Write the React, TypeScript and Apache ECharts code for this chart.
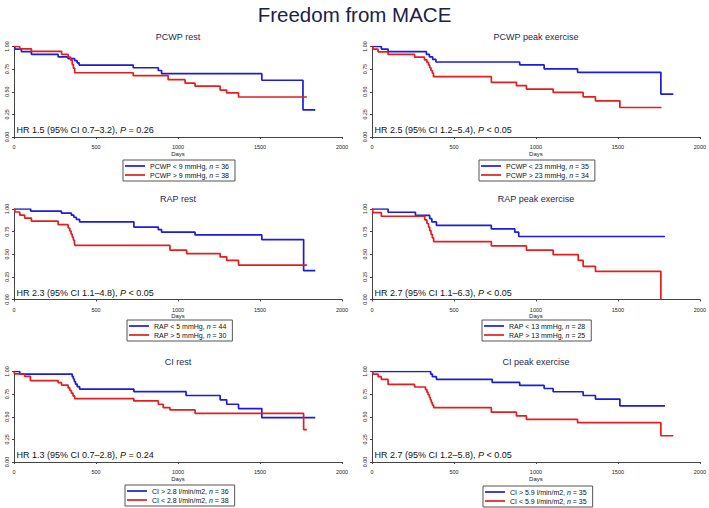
import React, { useEffect, useRef } from "react";
import * as echarts from "echarts";

const xTicks = [0, 500, 1000, 1500, 2000];
const yTicks = [0, 0.25, 0.5, 0.75, 1];

const panelTitles = ["PCWP rest", "PCWP peak exercise", "RAP rest", "RAP peak exercise", "CI rest", "CI peak exercise"];
const hrTexts = [
  "HR 1.5 (95% CI 0.7–3.2), {i|P} = 0.26",
  "HR 2.5 (95% CI 1.2–5.4), {i|P} < 0.05",
  "HR 2.3 (95% CI 1.1–4.8), {i|P} < 0.05",
  "HR 2.7 (95% CI 1.1–6.3), {i|P} < 0.05",
  "HR 1.3 (95% CI 0.7–2.8), {i|P} = 0.24",
  "HR 2.7 (95% CI 1.2–5.8), {i|P} < 0.05",
];
const blueNames = [
  "PCWP < 9 mmHg, n = 36",
  "PCWP < 23 mmHg, n = 35",
  "RAP < 5 mmHg, n = 44",
  "RAP < 13 mmHg, n = 28",
  "CI > 2.8 l/min/m2, n = 36",
  "CI > 5.9 l/min/m2, n = 35",
];
const redNames = [
  "PCWP > 9 mmHg, n = 38",
  "PCWP > 23 mmHg, n = 34",
  "RAP > 5 mmHg, n = 30",
  "RAP > 13 mmHg, n = 25",
  "CI < 2.8 l/min/m2, n = 38",
  "CI < 5.9 l/min/m2, n = 35",
];

// Panel 1: PCWP rest
const p1BlueDays = [0, 5, 45, 106, 269, 330, 370, 385, 397, 727, 880, 900, 1511, 1762, 1837];
const p1BlueSurv = [1, 0.972, 0.944, 0.914, 0.886, 0.866, 0.845, 0.82, 0.795, 0.765, 0.735, 0.7, 0.627, 0.3, 0.3];
const p1RedDays = [0, 35, 106, 290, 330, 345, 355, 362, 370, 727, 940, 1043, 1104, 1257, 1297, 1369, 1786];
const p1RedSurv = [1, 0.974, 0.947, 0.914, 0.884, 0.85, 0.8, 0.76, 0.71, 0.678, 0.633, 0.596, 0.562, 0.517, 0.487, 0.442, 0.442];

// Panel 2: PCWP peak exercise
const p2BlueDays = [0, 57, 98, 332, 350, 370, 390, 901, 1050, 1254, 1762, 1838];
const p2BlueSurv = [1, 0.971, 0.943, 0.914, 0.886, 0.857, 0.829, 0.796, 0.752, 0.715, 0.474, 0.474];
const p2RedDays = [0, 6, 37, 98, 260, 320, 335, 345, 352, 360, 368, 375, 728, 881, 942, 1105, 1288, 1363, 1512, 1766];
const p2RedSurv = [1, 0.97, 0.941, 0.912, 0.882, 0.853, 0.824, 0.794, 0.765, 0.735, 0.706, 0.667, 0.604, 0.567, 0.53, 0.493, 0.444, 0.4, 0.326, 0.326];

// Panel 3: RAP rest
const p3BlueDays = [0, 102, 289, 350, 365, 380, 400, 731, 880, 900, 1104, 1511, 1766, 1837];
const p3BlueSurv = [1, 0.977, 0.955, 0.932, 0.909, 0.886, 0.857, 0.8, 0.771, 0.744, 0.714, 0.662, 0.32, 0.32];
const p3RedDays = [0, 5, 35, 65, 106, 269, 330, 340, 348, 355, 362, 368, 372, 951, 1053, 1257, 1297, 1369, 1786];
const p3RedSurv = [1, 0.967, 0.933, 0.9, 0.867, 0.827, 0.79, 0.757, 0.724, 0.69, 0.657, 0.627, 0.597, 0.545, 0.508, 0.47, 0.432, 0.38, 0.38];

// Panel 4: RAP peak exercise
const p4BlueDays = [0, 98, 265, 352, 365, 393, 728, 871, 895, 1787];
const p4BlueSurv = [1, 0.964, 0.929, 0.893, 0.857, 0.818, 0.78, 0.744, 0.696, 0.696];
const p4RedDays = [0, 5, 57, 322, 335, 345, 352, 360, 368, 376, 728, 942, 1105, 1258, 1288, 1363, 1762];
const p4RedSurv = [1, 0.96, 0.92, 0.88, 0.84, 0.8, 0.76, 0.72, 0.68, 0.64, 0.593, 0.545, 0.495, 0.432, 0.366, 0.311, 0];

// Panel 5: CI rest
const p5BlueDays = [0, 35, 355, 362, 368, 375, 385, 400, 731, 1049, 1257, 1297, 1369, 1511, 1837];
const p5BlueSurv = [1, 0.972, 0.944, 0.917, 0.889, 0.861, 0.833, 0.806, 0.778, 0.735, 0.687, 0.638, 0.59, 0.49, 0.49];
const p5RedDays = [0, 3, 65, 100, 269, 290, 330, 340, 350, 360, 370, 731, 880, 910, 951, 1104, 1766, 1786];
const p5RedSurv = [1, 0.974, 0.947, 0.9, 0.877, 0.85, 0.82, 0.79, 0.76, 0.73, 0.7, 0.675, 0.638, 0.6, 0.575, 0.537, 0.358, 0.358];

// Panel 6: CI peak exercise
const p6BlueDays = [0, 358, 368, 393, 733, 901, 1050, 1105, 1288, 1363, 1512, 1787];
const p6BlueSurv = [1, 0.971, 0.943, 0.914, 0.879, 0.846, 0.812, 0.776, 0.735, 0.695, 0.621, 0.621];
const p6RedDays = [0, 6, 37, 57, 98, 260, 326, 335, 342, 350, 356, 362, 368, 376, 728, 881, 942, 1254, 1762, 1838];
const p6RedSurv = [1, 0.971, 0.943, 0.914, 0.857, 0.829, 0.8, 0.771, 0.743, 0.714, 0.686, 0.657, 0.629, 0.6, 0.551, 0.51, 0.47, 0.434, 0.29, 0.29];

const blueDays = [p1BlueDays, p2BlueDays, p3BlueDays, p4BlueDays, p5BlueDays, p6BlueDays];
const blueSurv = [p1BlueSurv, p2BlueSurv, p3BlueSurv, p4BlueSurv, p5BlueSurv, p6BlueSurv];
const redDays = [p1RedDays, p2RedDays, p3RedDays, p4RedDays, p5RedDays, p6RedDays];
const redSurv = [p1RedSurv, p2RedSurv, p3RedSurv, p4RedSurv, p5RedSurv, p6RedSurv];

const FONT = "'Liberation Sans', Arial, Helvetica, sans-serif";
const BLUE = "#1c1cdc";
const RED = "#e41e1e";

const colLeft = [14, 372];
const plotW = 328;
const rowTop = [46.5, 209, 371.5];
const plotH = 90.5;
const legendPos = [
  [123, 160],
  [479, 160],
  [127, 320],
  [482, 320],
  [125, 485],
  [483, 486],
];

function zip(a: number[], b: number[]) {
  return a.map((d, i) => [d, b[i]]);
}

export default function App() {
  const ref = useRef<HTMLDivElement>(null);
  useEffect(() => {
    if (!ref.current) return;
    const chart = echarts.init(ref.current, undefined, { renderer: "svg" });
    const grids: any[] = [];
    const xAxes: any[] = [];
    const yAxes: any[] = [];
    const series: any[] = [];
    const legends: any[] = [];
    const graphics: any[] = [
      {
        type: "text",
        x: 354.5,
        y: 14,
        style: { text: "Freedom from MACE", fontSize: 20.5, fontFamily: FONT, fill: "#1b2147", align: "center", verticalAlign: "middle" },
      },
    ];
    for (let i = 0; i < 6; i++) {
      const col = i % 2;
      const row = Math.floor(i / 2);
      const left = colLeft[col];
      const top = rowTop[row];
      grids.push({ left, top, width: plotW, height: plotH, containLabel: false });
      xAxes.push({
        type: "value",
        gridIndex: i,
        min: xTicks[0],
        max: xTicks[xTicks.length - 1],
        interval: 500,
        offset: 5.5,
        name: "Days",
        nameLocation: "middle",
        nameGap: 7,
        nameTextStyle: { fontSize: 6, color: "#222", fontFamily: FONT },
        axisLine: { show: true, lineStyle: { color: "#444", width: 1 } },
        axisTick: { show: true, length: 2, lineStyle: { color: "#444" } },
        axisLabel: { fontSize: 5.5, margin: 1.5, color: "#222", fontFamily: FONT, formatter: (v: number) => String(v) },
        splitLine: { show: false },
      });
      yAxes.push({
        type: "value",
        gridIndex: i,
        min: yTicks[0],
        max: yTicks[yTicks.length - 1],
        interval: 0.25,
        offset: 2,
        axisLine: { show: true, lineStyle: { color: "#444", width: 1 } },
        axisTick: { show: true, length: 2, lineStyle: { color: "#444" } },
        axisLabel: { fontSize: 5.3, margin: 2.5, rotate: 90, color: "#222", fontFamily: FONT, formatter: (v: number) => v.toFixed(2) },
        splitLine: { show: false },
      });
      series.push({
        type: "line",
        name: blueNames[i],
        xAxisIndex: i,
        yAxisIndex: i,
        step: "end",
        symbol: "none",
        data: zip(blueDays[i], blueSurv[i]),
        lineStyle: { color: BLUE, width: 1.7 },
        itemStyle: { color: BLUE },
      });
      series.push({
        type: "line",
        name: redNames[i],
        xAxisIndex: i,
        yAxisIndex: i,
        step: "end",
        symbol: "none",
        data: zip(redDays[i], redSurv[i]),
        lineStyle: { color: RED, width: 1.7 },
        itemStyle: { color: RED },
      });
      legends.push({
        orient: "vertical",
        left: legendPos[i][0],
        top: legendPos[i][1],
        data: [blueNames[i], redNames[i]],
        icon: "rect",
        itemWidth: 20,
        itemHeight: 1.7,
        itemGap: 0,
        padding: [1.5, 6, 1.5, 2],
        borderColor: "#555",
        borderWidth: 1,
        selectedMode: false,
        formatter: (n: string) => n.replace(", n =", ", {i|n} ="),
        textStyle: {
          fontSize: 7,
          lineHeight: 9,
          color: "#111",
          fontFamily: FONT,
          rich: { i: { fontStyle: "italic", fontSize: 7, lineHeight: 9, fontFamily: FONT, color: "#111" } },
        },
      });
      graphics.push({
        type: "text",
        x: left + plotW / 2,
        y: top - 9.8,
        style: { text: panelTitles[i], fontSize: 9, fontFamily: FONT, fill: "#1c2a55", align: "center", verticalAlign: "middle" },
      });
      graphics.push({
        type: "text",
        x: left + 2.5,
        y: top + plotH - 7,
        style: {
          text: hrTexts[i],
          fontSize: 9,
          fontFamily: FONT,
          fill: "#111",
          align: "left",
          verticalAlign: "middle",
          rich: { i: { fontStyle: "italic", fontSize: 9, fontFamily: FONT, fill: "#111" } },
        },
      });
    }
    chart.setOption({
      animation: false,
      backgroundColor: "#ffffff",
      textStyle: { fontFamily: FONT },
      grid: grids,
      xAxis: xAxes,
      yAxis: yAxes,
      series,
      legend: legends,
      graphic: graphics,
    });
    return () => chart.dispose();
  }, []);
  return <div ref={ref} style={{ position: "absolute", left: 0, top: 0, width: 709, height: 508 }} />;
}
